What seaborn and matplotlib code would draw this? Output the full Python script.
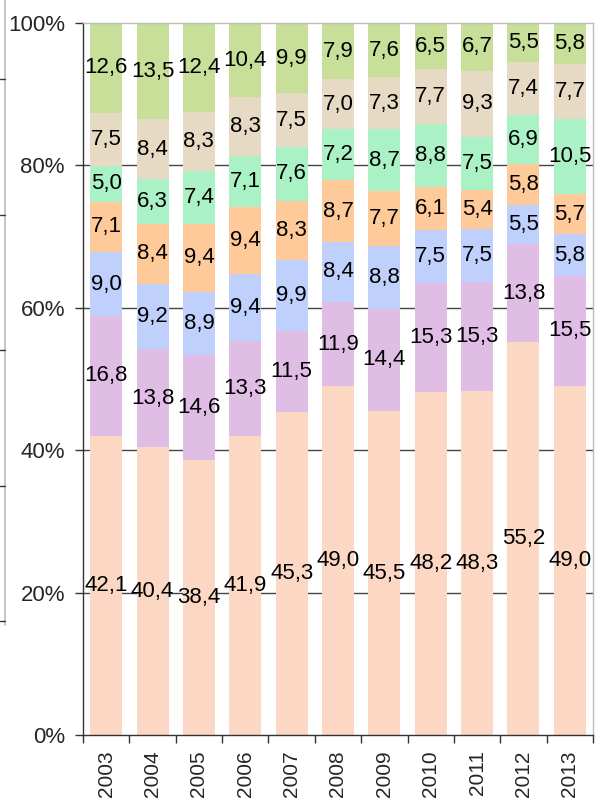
import numpy as np
import pandas as pd
import matplotlib
matplotlib.use("Agg")
import matplotlib.pyplot as plt
from matplotlib.lines import Line2D
from matplotlib.ticker import FixedLocator, PercentFormatter
import seaborn as sns

years = ["2003", "2004", "2005", "2006", "2007", "2008", "2009", "2010", "2011", "2012", "2013"]
s1 = [42.1, 40.4, 38.4, 41.9, 45.3, 49.0, 45.5, 48.2, 48.3, 55.2, 49.0]
s2 = [16.8, 13.8, 14.6, 13.3, 11.5, 11.9, 14.4, 15.3, 15.3, 13.8, 15.5]
s3 = [9.0, 9.2, 8.9, 9.4, 9.9, 8.4, 8.8, 7.5, 7.5, 5.5, 5.8]
s4 = [7.1, 8.4, 9.4, 9.4, 8.3, 8.7, 7.7, 6.1, 5.4, 5.8, 5.7]
s5 = [5.0, 6.3, 7.4, 7.1, 7.6, 7.2, 8.7, 8.8, 7.5, 6.9, 10.5]
s6 = [7.5, 8.4, 8.3, 8.3, 7.5, 7.0, 7.3, 7.7, 9.3, 7.4, 7.7]
s7 = [12.6, 13.5, 12.4, 10.4, 9.9, 7.9, 7.6, 6.5, 6.7, 5.5, 5.8]
series = [s1, s2, s3, s4, s5, s6, s7]
colors = ["#FCD7C3", "#E0BDE5", "#BFD0FC", "#FFCA99", "#AAF1C6", "#E7DAC5", "#C8DF9A"]
y_ticks = [0, 20, 40, 60, 80, 100]

sns.set_theme(style="white")
plt.rcParams["font.family"] = ["Liberation Sans", "DejaVu Sans"]

vals = np.array(series, dtype=float)
totals = vals.sum(axis=0)
pct = vals / totals * 100.0
cum = np.cumsum(pct, axis=0)

fig = plt.figure(figsize=(6.01, 7.99), dpi=100)
ax = fig.add_axes([83 / 601, 1 - 735 / 799, (593 - 83) / 601, (735 - 23) / 799])

for i in range(len(series) - 1, -1, -1):
    df = pd.DataFrame({"year": years, "top": cum[i]})
    sns.barplot(data=df, x="year", y="top", color=colors[i], width=0.69,
                saturation=1, errorbar=None, ax=ax, zorder=2, linewidth=0)

for i in range(len(series)):
    bottoms = cum[i] - pct[i]
    for j, y in enumerate(years):
        ax.text(j, bottoms[j] + pct[i][j] / 2, f"{series[i][j]:.1f}".replace(".", ","),
                ha="center", va="center", fontsize=16, color="black", zorder=5)

ax.set_ylim(0, 100)
ax.set_xlim(-0.5, len(years) - 0.5)
ax.yaxis.set_major_locator(FixedLocator(y_ticks))
ax.yaxis.set_major_formatter(PercentFormatter(decimals=0))
ax.set_xlabel("")
ax.set_ylabel("")
for g in y_ticks[1:-1]:
    ax.axhline(g, color="#444444", lw=1.0, zorder=1)

ax.tick_params(axis="y", which="major", direction="out", length=6, width=1,
               color="#333333", labelsize=16, pad=7, left=True)
ax.tick_params(axis="x", which="major", length=0, labelsize=15, pad=11, rotation=90)
ax.set_xticks(np.arange(-0.5, len(years), 1.0), minor=True)
ax.tick_params(axis="x", which="minor", direction="out", length=6, width=1,
               color="#333333", bottom=True)
ax.grid(False)

for side in ["left", "bottom"]:
    ax.spines[side].set_color("#333333")
    ax.spines[side].set_linewidth(1.0)
for side in ["top", "right"]:
    ax.spines[side].set_color("#BBBBBB")
    ax.spines[side].set_linewidth(1.0)

# cropped neighbouring chart edge at far left
fig.add_artist(Line2D([5 / 601, 5 / 601], [1.0, 1 - 625 / 799], color="#BBBBBB", lw=1.2,
                      transform=fig.transFigure))
for yy in [79, 215, 350, 486, 621]:
    fig.add_artist(Line2D([0, 5 / 601], [1 - yy / 799, 1 - yy / 799], color="#333333",
                          lw=1.0, transform=fig.transFigure))

fig.savefig("out.png", dpi=100)
